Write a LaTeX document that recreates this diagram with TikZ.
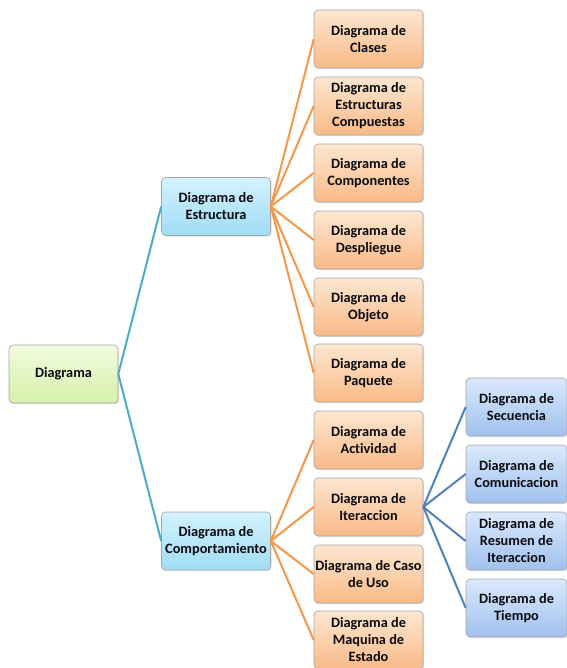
\documentclass[tikz,border=0pt]{standalone}
\usepackage{fontspec}
\setmainfont{Carlito}[Ligatures=NoCommon]
\usetikzlibrary{shadows}
\definecolor{txt}{RGB}{10,10,15}
\definecolor{teal}{RGB}{75,172,198}
\definecolor{orng}{RGB}{247,150,70}
\definecolor{steel}{RGB}{79,129,189}
\tikzset{
  box/.style={draw=black!35, line width=0.6pt, rounded corners=4pt,
    minimum width=109pt, minimum height=58pt, align=center,
    inner sep=0pt, font=\fontsize{14.3}{17}\selectfont\bfseries, text=txt,
    drop shadow={opacity=0.25, shadow xshift=1.2pt, shadow yshift=-1.2pt}},
  rootbox/.style={box, top color={rgb,255:red,242;green,251;blue,224}, bottom color={rgb,255:red,214;green,240;blue,170}},
  midbox/.style={box, top color={rgb,255:red,210;green,242;blue,253}, bottom color={rgb,255:red,160;green,220;blue,246}},
  leafbox/.style={box, top color={rgb,255:red,253;green,230;blue,208}, bottom color={rgb,255:red,249;green,186;blue,135}},
  subbox/.style={box, minimum width=101pt, top color={rgb,255:red,218;green,232;blue,252}, bottom color={rgb,255:red,160;green,193;blue,238}},
  tealline/.style={draw=teal, line width=2pt},
  orline/.style={draw=orng, line width=2pt},
  stline/.style={draw=steel, line width=2pt}
}
\begin{document}
\begin{tikzpicture}[x=1pt,y=-1pt]
\useasboundingbox (0,0) rectangle (566,668);

% root and second level
\node[rootbox] (root) at (63.5,374) {Diagrama};
\node[midbox] (est) at (216,206.5) {Diagrama de\\Estructura};
\node[midbox] (comp) at (216,541) {Diagrama de\\Comportamiento};

% structure diagrams
\node[leafbox] (clases) at (368.5,39) {Diagrama de\\Clases};
\node[leafbox] (estcomp) at (368.5,106) {Diagrama de\\Estructuras\\Compuestas};
\node[leafbox] (compon) at (368.5,173) {Diagrama de\\Componentes};
\node[leafbox] (despl) at (368.5,240) {Diagrama de\\Despliegue};
\node[leafbox] (objeto) at (368.5,307) {Diagrama de\\Objeto};
\node[leafbox] (paquete) at (368.5,373) {Diagrama de\\Paquete};

% behaviour diagrams
\node[leafbox] (activ) at (368.5,440) {Diagrama de\\Actividad};
\node[leafbox] (iter) at (368.5,507) {Diagrama de\\Iteraccion};
\node[leafbox] (caso) at (368.5,574) {Diagrama de Caso\\de Uso};
\node[leafbox] (maq) at (368.5,640) {Diagrama de\\Maquina de\\Estado};

% interaction diagrams
\node[subbox] (secu) at (516.5,407) {Diagrama de\\Secuencia};
\node[subbox] (comu) at (516.5,474) {Diagrama de\\Comunicacion};
\node[subbox] (resu) at (516.5,541) {Diagrama de\\Resumen de\\Iteraccion};
\node[subbox] (tiem) at (516.5,608) {Diagrama de\\Tiempo};

% connectors
\draw[tealline] (root.east) -- (est.west);
\draw[tealline] (root.east) -- (comp.west);
\foreach \n in {clases,estcomp,compon,despl,objeto,paquete}
  \draw[orline] (est.east) -- (\n.west);
\foreach \n in {activ,iter,caso,maq}
  \draw[orline] (comp.east) -- (\n.west);
\foreach \n in {secu,comu,resu,tiem}
  \draw[stline] (iter.east) -- (\n.west);
\end{tikzpicture}
\end{document}
